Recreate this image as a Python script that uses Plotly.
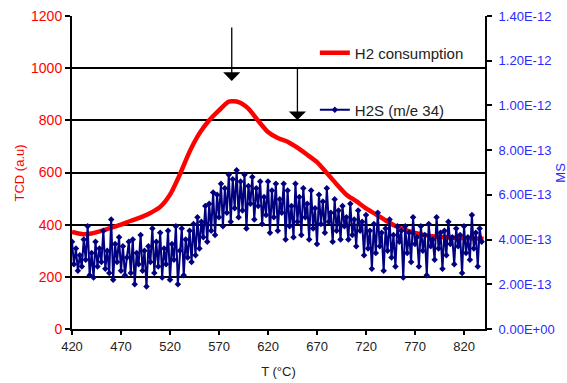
import plotly.graph_objects as go

# ---------------- data ----------------
# H2 consumption (TCD, a.u.) read every 10 °C
tcd_T = [420, 430, 440, 450, 460, 470, 480, 490, 500, 510,
         520, 530, 540, 550, 560, 570, 580, 590, 600, 610,
         620, 630, 640, 650, 660, 670, 680, 690, 700, 710,
         720, 730, 740, 750, 760, 770, 780, 790, 800, 810,
         820, 830, 840]
tcd_val = [372, 364, 366, 376, 388, 400, 415, 428, 445, 468,
           515, 592, 680, 750, 800, 838, 872, 870, 845, 798,
           755, 732, 718, 695, 668, 640, 598, 555, 515, 490,
           462, 440, 416, 395, 380, 368, 360, 355, 352, 350,
           348, 347, 346]

# H2S (m/e 34) MS signal, in units of 1e-13, every 2 °C from 420 °C
ms_T = list(range(420, 840, 2))
ms_e13 = [
    3.9, 2.9, 3.6, 2.6, 3.3, 2.8, 4.0, 3.1, 4.6, 2.4,
    3.4, 2.3, 3.9, 2.8, 3.6, 3.0, 4.4, 2.7, 3.5, 2.5,
    4.9, 2.2, 3.8, 3.0, 4.1, 2.6, 3.7, 2.4, 3.2, 3.9,
    2.5, 4.0, 2.0, 3.4, 2.9, 4.2, 2.6, 3.5, 1.9, 3.7,
    3.0, 4.5, 2.5, 3.9, 2.8, 4.3, 2.3, 3.6, 2.9, 4.4,
    2.2, 3.8, 3.1, 4.6, 2.0, 3.5, 4.5, 2.4, 4.0, 3.2,
    4.4, 3.0, 4.7, 3.3, 5.0, 3.6, 4.8, 4.1, 5.5, 3.9,
    5.6, 4.4, 6.1, 4.2, 6.0, 5.0, 6.5, 4.6, 6.3, 5.2,
    6.9, 4.8, 6.7, 5.4, 7.1, 5.0, 6.6, 5.3, 6.9, 4.5,
    6.4, 5.6, 6.8, 4.9, 6.3, 5.5, 6.6, 4.7, 5.9, 5.1,
    6.6, 4.3, 6.2, 5.0, 6.5, 4.4, 5.8, 5.2, 6.5, 4.0,
    6.2, 4.6, 5.5, 4.1, 6.5, 4.8, 5.9, 4.2, 6.3, 5.0,
    5.6, 4.0, 6.2, 4.5, 5.4, 3.8, 6.0, 4.7, 5.7, 4.3,
    6.3, 4.8, 5.2, 3.9, 5.8, 4.4, 5.3, 4.0, 5.5, 4.6,
    5.0, 4.0, 5.6, 4.2, 4.9, 3.7, 5.3, 4.4, 4.8, 3.3,
    5.1, 3.6, 4.4, 2.7, 4.7, 3.4, 5.2, 3.7, 4.3, 2.6,
    4.5, 3.5, 4.9, 3.2, 4.2, 2.8, 4.6, 3.9, 4.4, 2.3,
    4.6, 3.4, 4.3, 3.0, 5.0, 3.8, 4.1, 2.8, 4.6, 3.5,
    4.2, 2.4, 4.7, 3.7, 4.0, 3.1, 5.0, 3.6, 4.3, 2.7,
    4.4, 3.3, 4.8, 3.8, 4.1, 2.9, 4.5, 3.7, 4.2, 2.5,
    4.6, 3.4, 4.1, 3.1, 5.1, 3.6, 4.3, 2.8, 4.5, 3.9,
]
MS_UNIT = 1e-13
ms_val = [v * MS_UNIT for v in ms_e13]

x_ticks = [420, 470, 520, 570, 620, 670, 720, 770, 820]
left_ticks = [0, 200, 400, 600, 800, 1000, 1200]
right_ticks = [0, 2e-13, 4e-13, 6e-13, 8e-13, 1.0e-12, 1.2e-12, 1.4e-12]
right_tick_text = ["0.00E+00", "2.00E-13", "4.00E-13", "6.00E-13",
                   "8.00E-13", "1.00E-12", "1.20E-12", "1.40E-12"]

# arrows: (T, tail value, tip value) on TCD scale
arrows = [(583, 1162, 951), (650, 1008, 801)]

FONT = "Liberation Sans, Arial, sans-serif"
RED = "#ff0000"
BLUE_TXT = "#2a2aff"
NAVY = "#000080"

fig = go.Figure()
fig.add_trace(go.Scatter(
    x=tcd_T, y=tcd_val, name="H2 consumption", mode="lines",
    line=dict(color=RED, width=4.5, shape="spline", smoothing=0.6),
    yaxis="y", legend="legend", showlegend=True))
fig.add_trace(go.Scatter(
    x=ms_T, y=ms_val, name="H2S (m/e 34)", mode="lines+markers",
    line=dict(color=NAVY, width=2),
    marker=dict(symbol="diamond", size=5, color=NAVY),
    yaxis="y2", legend="legend2", showlegend=True))

for (t, y0, y1) in arrows:
    fig.add_annotation(x=t, y=y1, ax=t, ay=y0, xref="x", yref="y",
                       axref="x", ayref="y", text="", showarrow=True,
                       arrowhead=1, arrowsize=2.2, arrowwidth=1.3,
                       arrowcolor="black")

# y-axis titles as rotated text
fig.add_annotation(text="TCD (a.u)", xref="paper", yref="paper",
                   x=-0.126, y=0.5, xanchor="center", yanchor="middle",
                   textangle=-90, showarrow=False,
                   font=dict(size=13, color=RED))
fig.add_annotation(text="MS", xref="paper", yref="paper",
                   x=1.182, y=0.5, xanchor="center", yanchor="middle",
                   textangle=-90, showarrow=False,
                   font=dict(size=13, color=BLUE_TXT))

fig.update_layout(
    width=567, height=383, autosize=False, showlegend=True,
    margin=dict(l=72, r=82, t=16, b=54),
    paper_bgcolor="white", plot_bgcolor="white",
    font=dict(family=FONT, size=13, color="#222"),
    xaxis=dict(range=[420, 841.4], tickvals=x_ticks, showgrid=False,
               zeroline=False, showline=True, linecolor="black", linewidth=2,
               ticks="outside", ticklen=4, tickwidth=2, tickcolor="black",
               tickfont=dict(size=13, color="#222"),
               title=dict(text="T (°C)", font=dict(size=13, color="#222"),
                          standoff=14),
               automargin=False),
    yaxis=dict(range=[0, 1200], tickvals=left_ticks, showgrid=True,
               gridcolor="black", gridwidth=2, zeroline=False,
               showline=True, linecolor="black", linewidth=2,
               ticks="outside", ticklen=5, tickwidth=2, tickcolor="black",
               tickfont=dict(size=14, color=RED),
               automargin=False),
    yaxis2=dict(range=[0, 1.4e-12], overlaying="y", side="right",
                anchor="x", tickvals=right_ticks, ticktext=right_tick_text,
                showgrid=False, zeroline=False, showline=True,
                linecolor="black", linewidth=2, ticks="outside", ticklen=5,
                tickwidth=2, tickcolor="black", ticklabelstandoff=4,
                tickfont=dict(size=13, color=BLUE_TXT),
                automargin=False),
    legend=dict(x=0.588, y=0.882, xanchor="left", yanchor="middle",
                bgcolor="rgba(0,0,0,0)", font=dict(size=15, color="#222"),
                itemwidth=30),
    legend2=dict(x=0.588, y=0.70, xanchor="left", yanchor="middle",
                 bgcolor="rgba(0,0,0,0)", font=dict(size=15, color="#222"),
                 itemwidth=30),
)

fig.write_html("out.html")
